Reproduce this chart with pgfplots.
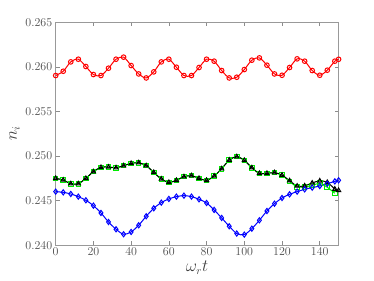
\documentclass[border=0pt]{standalone}
\usepackage{pgfplots}
\pgfplotsset{compat=1.18}
\definecolor{mygreen}{RGB}{0,235,0}
\begin{document}
\begin{tikzpicture}
\begin{axis}[
  scale only axis, width=283pt, height=223pt,
  xmin=0, xmax=150, ymin=0.240, ymax=0.265,
  xtick={0,20,...,140},
  ytick={0.240,0.245,0.250,0.255,0.260,0.265},
  scaled y ticks=false,
  yticklabel style={/pgf/number format/.cd, fixed, fixed zerofill, precision=3},
  xticklabel style={yshift=1pt},
  tick align=inside,
  axis line style={black!40, line width=0.8pt},
  tick style={black!45, line width=0.6pt},
  major tick length=4pt,
  tick label style={font=\fontsize{12}{14}\selectfont, text=black!70},
  label style={font=\fontsize{16}{18}\selectfont, text=black!75},
  xlabel={$\omega_r t$}, ylabel={$n_i$},
  xlabel style={yshift=1pt},
  ylabel style={yshift=-1pt},
  clip=false,
]
% red
\addplot[red, line width=1pt, smooth, mark=o, mark size=2.3pt, mark options={line width=1pt, solid}] coordinates {
(0,0.25903)(4,0.25951)(8,0.26056)(12,0.26086)(16,0.26004)(20,0.25914)(24,0.25903)(28,0.25985)
(32,0.26086)(36,0.26109)(40,0.26015)(44,0.25921)(48,0.25876)(52,0.25944)(56,0.26056)(60,0.26086)
(64,0.25996)(68,0.25903)(72,0.25903)(76,0.25993)(80,0.26086)(84,0.26064)(88,0.25959)(92,0.25876)
(96,0.25884)(100,0.25970)(104,0.26075)(108,0.26101)(112,0.26019)(116,0.25921)(120,0.25906)(124,0.25993)
(128,0.26090)(132,0.26064)(136,0.25959)(140,0.25906)(144,0.25963)(148,0.26064)(150,0.26085)};
% green
\addplot[mygreen, line width=1pt, smooth, mark=square, mark size=2.3pt, mark options={line width=1pt, solid}] coordinates {
(0,0.24750)(4,0.24731)(8,0.24690)(12,0.24690)(16,0.24750)(20,0.24825)(24,0.24873)(28,0.24877)
(32,0.24869)(36,0.24892)(40,0.24918)(44,0.24925)(48,0.24892)(52,0.24817)(56,0.24743)(60,0.24705)
(64,0.24728)(68,0.24769)(72,0.24780)(76,0.24750)(80,0.24728)(84,0.24776)(88,0.24858)(92,0.24955)
(96,0.24993)(100,0.24952)(104,0.24869)(108,0.24806)(112,0.24806)(116,0.24814)(120,0.24785)(124,0.24715)
(128,0.24655)(132,0.24655)(136,0.24670)(140,0.24695)(144,0.24650)(148,0.24582)};
% black
\addplot[black, line width=1pt, smooth, mark=triangle, mark size=2.4pt, mark options={line width=1pt, solid}] coordinates {
(0,0.24750)(4,0.24731)(8,0.24690)(12,0.24690)(16,0.24750)(20,0.24825)(24,0.24873)(28,0.24877)
(32,0.24869)(36,0.24892)(40,0.24918)(44,0.24925)(48,0.24892)(52,0.24817)(56,0.24743)(60,0.24705)
(64,0.24728)(68,0.24769)(72,0.24780)(76,0.24750)(80,0.24728)(84,0.24776)(88,0.24858)(92,0.24955)
(96,0.24993)(100,0.24952)(104,0.24869)(108,0.24806)(112,0.24806)(116,0.24814)(120,0.24786)(124,0.24724)
(128,0.24664)(132,0.24666)(136,0.24698)(140,0.24722)(144,0.24705)(148,0.24630)(150,0.24615)};
% blue
\addplot[blue, line width=1pt, smooth, mark=diamond, mark size=2.6pt, mark options={line width=1pt, solid}] coordinates {
(0,0.24601)(4,0.24593)(8,0.24575)(12,0.24545)(16,0.24504)(20,0.24444)(24,0.24362)(28,0.24261)
(32,0.24179)(36,0.24123)(40,0.24149)(44,0.24224)(48,0.24325)(52,0.24414)(56,0.24478)(60,0.24519)
(64,0.24545)(68,0.24556)(72,0.24545)(76,0.24515)(80,0.24474)(84,0.24396)(88,0.24306)(92,0.24213)
(96,0.24131)(100,0.24119)(104,0.24186)(108,0.24280)(112,0.24384)(116,0.24466)(120,0.24530)(124,0.24571)
(128,0.24601)(132,0.24627)(136,0.24646)(140,0.24664)(144,0.24690)(148,0.24716)(150,0.24728)};
\end{axis}
\pgfresetboundingbox
\path[use as bounding box] ([xshift=-55.7pt,yshift=-35.7pt]current axis.south west) rectangle ([xshift=35.4pt,yshift=22.3pt]current axis.north east);
\end{tikzpicture}
\end{document}
